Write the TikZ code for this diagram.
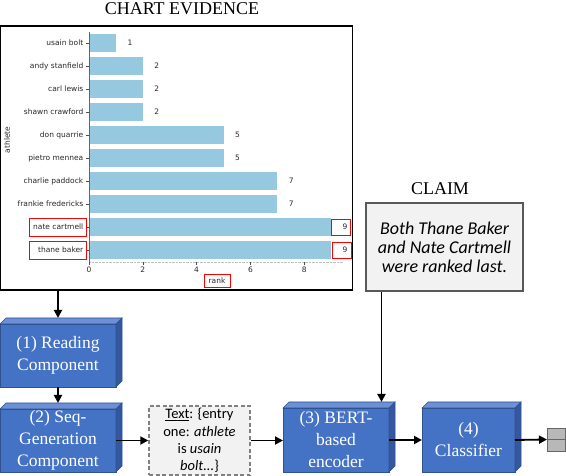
\documentclass[tikz,border=0pt]{standalone}
\usepackage{fontspec}
\setmainfont{Liberation Serif}
\newfontfamily\calib{Carlito}
\newfontfamily\dvs{DejaVu Sans}
\usetikzlibrary{arrows.meta}
\definecolor{barc}{RGB}{150,201,223}
\definecolor{frontc}{RGB}{68,114,196}
\definecolor{topc}{RGB}{108,143,213}
\definecolor{sidec}{RGB}{52,88,160}
\definecolor{edgec}{RGB}{47,82,143}
\definecolor{boxg}{RGB}{242,242,242}
\newcommand\myextrude[1]{%
  \filldraw[fill=topc,draw=edgec,line width=0.6pt] (#1.north west) -- ([shift={(6,-6)}]#1.north west) -- ([shift={(6,-6)}]#1.north east) -- (#1.north east) -- cycle;
  \filldraw[fill=sidec,draw=edgec,line width=0.6pt] (#1.north east) -- ([shift={(6,-6)}]#1.north east) -- ([shift={(6,-6)}]#1.south east) -- (#1.south east) -- cycle;}
\begin{document}
\begin{tikzpicture}[x=1pt,y=-1pt,
  arr/.style={line width=1.8pt,-{Triangle[length=8pt,width=8pt]}},
  block/.style={rectangle, fill=frontc, draw=edgec, line width=0.6pt, outer sep=0pt, inner sep=0pt, text=white, align=center, font=\fontsize{17.5}{22}\selectfont},
  lab/.style={font=\dvs\fontsize{7.5}{9}\selectfont, text=black!85, inner sep=0pt, anchor=base east},
  val/.style={font=\dvs\fontsize{7.5}{9}\selectfont, text=black!85, inner sep=0pt, anchor=base},
  redbox/.style={draw=red, line width=0.9pt},
]
\useasboundingbox (0,0) rectangle (566,476);
% titles
\node[font=\fontsize{18}{20}\selectfont, anchor=base, inner sep=0pt] (t1) at (182,14.5) {CHART EVIDENCE};
\node[font=\fontsize{18}{20}\selectfont, anchor=base, inner sep=0pt] (t2) at (440,194.5) {CLAIM};
% chart
\node[draw, line width=1.4pt, minimum width=352pt, minimum height=264pt, outer sep=0pt, inner sep=0pt] (chart) at (176.5,158) {};
\foreach \v [count=\i from 0] in {1,2,2,2,5,5,7,7,9,9} {
  \fill[barc] (89,{43+23*\i-9.3}) rectangle ({89+26.9*\v},{43+23*\i+9.3});
  \node[val] (v\i) at ({89+26.9*\v+14},{43+23*\i+2.7}) {\v};
}
\foreach \n [count=\i from 0] in {usain bolt,andy stanfield,carl lewis,shawn crawford,don quarrie,pietro mennea,charlie paddock,frankie fredericks,nate cartmell,thane baker} {
  \node[lab] (l\i) at (83.5,{43+23*\i+2.7}) {\n};
  \draw[black!70] (86,{43+23*\i}) -- (89,{43+23*\i});
}
\draw[black!60, line width=0.9pt] (89,32) -- (89,262);
\draw[black!25, densely dotted] (89,262) -- (343,262);
\foreach \t in {0,2,4,6,8} {
  \draw[black!70] ({89+26.9*\t},262) -- ++(0,3);
  \node[val] (x\t) at ({89+26.9*\t},273) {\t};
}
\node[val] (rk) at (217,284) {rank};
\node[font=\dvs\fontsize{7.5}{9}\selectfont, text=black!85, rotate=90, inner sep=0pt] (ath) at (7,140) {athlete};
\draw[redbox] (29,218.5) rectangle (86,236);
\draw[redbox] (29,241.5) rectangle (86,259);
\draw[redbox] (331,219) rectangle (350,235);
\draw[redbox] (332,242) rectangle (351,258);
\draw[redbox] (204,274) rectangle (230,287);
% blocks
\node[block, minimum width=116pt, minimum height=63pt] (read) at (58,355.5) {(1) Reading\\Component};
\myextrude{read}
\node[block, minimum width=116pt, minimum height=63pt] (seq) at (58,440.5) {(2) Seq-\\Generation\\Component};
\myextrude{seq}
\node[block, minimum width=106pt, minimum height=64pt] (bert) at (336,440) {(3) BERT-\\based\\encoder};
\myextrude{bert}
\node[block, minimum width=93pt, minimum height=64pt] (cls) at (468.5,440) {(4)\\Classifier};
\myextrude{cls}
% text box
\node[draw=black!50, dash pattern=on 4pt off 2.5pt, line width=1.4pt, fill=boxg, minimum width=101pt, minimum height=69pt, inner sep=0pt, align=center, font=\calib\fontsize{14.5}{17.3}\selectfont] (txt) at (199.5,440.5) {\underline{Text}: \{entry\\one: \textit{athlete}\\is \textit{usain}\\\textit{bolt...}\}};
% claim
\node[draw=black!65, line width=1.2pt, fill=boxg, minimum width=157pt, minimum height=88pt, inner sep=0pt, align=center, font=\calib\itshape\fontsize{18}{19}\selectfont] (claim) at (444.5,247) {Both Thane Baker\\and Nate Cartmell\\were ranked last.};
% output
\node[draw=black!60, fill=black!28, minimum width=18pt, minimum height=23pt, inner sep=0pt, outer sep=0pt, line width=0.8pt] (out) at (556,439.5) {};
\draw[black!60, line width=0.8pt] (out.west) -- (out.east);
% connectors
\draw[arr] (chart.south -| read.north) -- ([yshift=6pt]read.north);
\draw[arr] (read.south) -- ([yshift=6pt]seq.north);
\draw[arr] (seq.east) -- (txt.west);
\draw[arr] (txt.east) -- (txt.east -| bert.west);
\coordinate (cfoot) at ([xshift=-63pt]claim.south);
\coordinate (btop) at ([yshift=6pt]bert.north);
\draw[arr] (cfoot) -- (cfoot |- btop);
\draw[arr] (bert.east) -- (cls.west);
\draw[arr] (cls.east) -- (out.west);
\end{tikzpicture}
\end{document}
